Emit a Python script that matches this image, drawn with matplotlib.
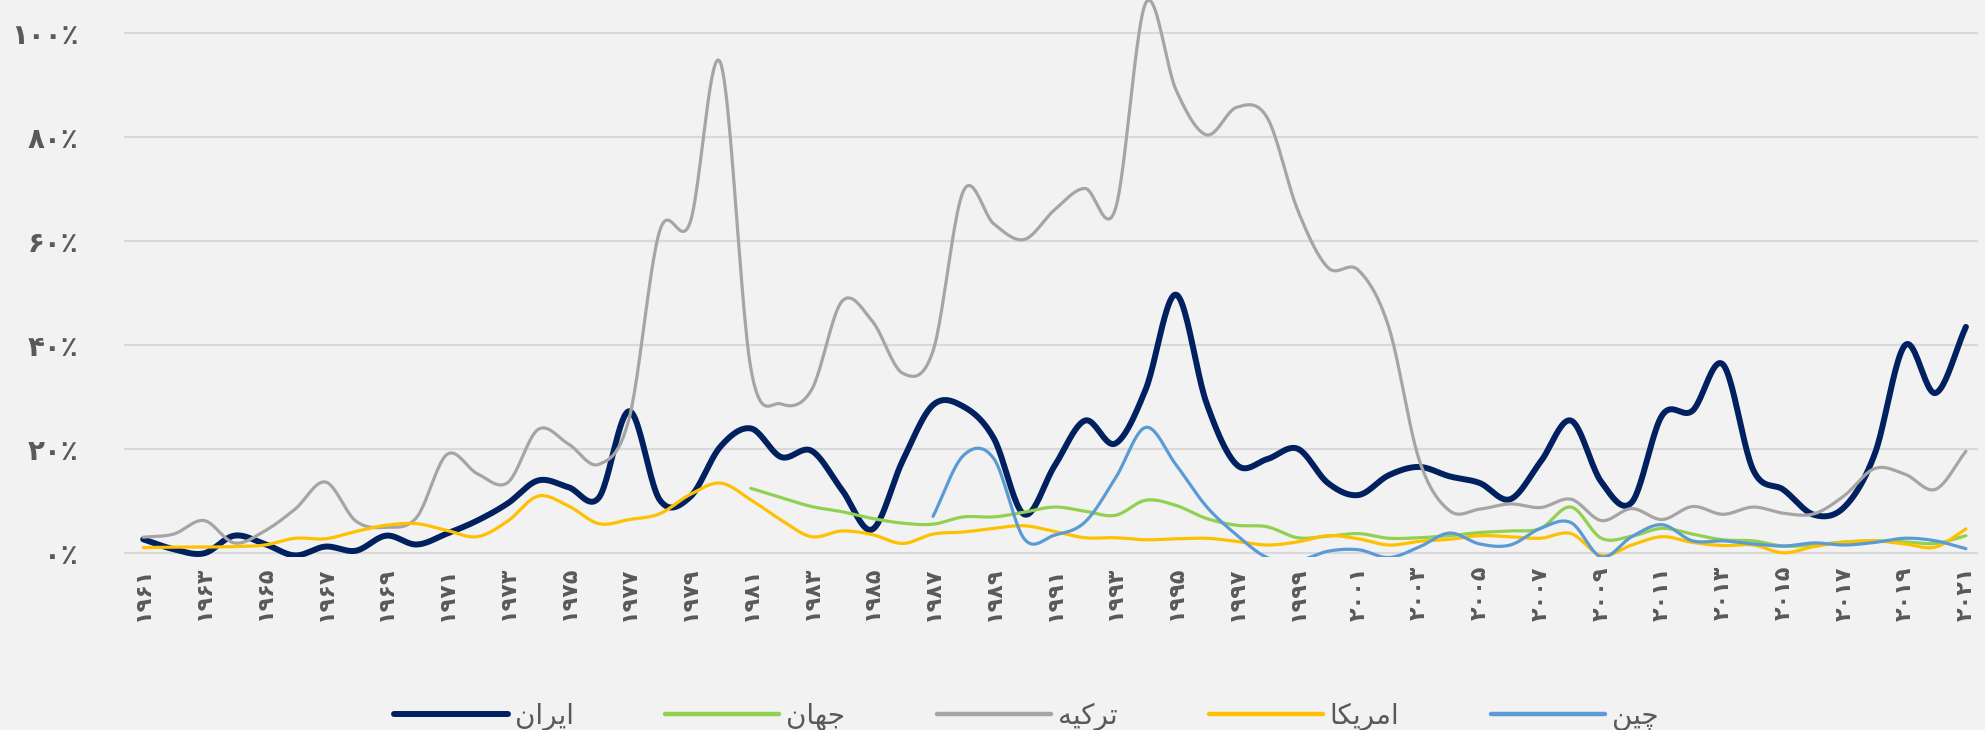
import numpy as np
import matplotlib
matplotlib.use("Agg")
import matplotlib.pyplot as plt

# ==========================================
# DATA: annual inflation (%), 1961-2021
# ==========================================
years = list(range(1961, 2022))

iran = [2.7, 0.8, 0.0, 3.4, 1.8, -0.4, 1.3, 0.5, 3.4, 1.7,
        3.8, 6.3, 9.6, 14.0, 12.7, 10.7, 27.3, 10.3, 10.8, 20.5,
        24.0, 18.5, 19.7, 12.2, 4.6, 17.8, 28.5, 28.2, 22.1, 7.5,
        16.8, 25.5, 21.1, 31.5, 49.7, 28.9, 17.0, 18.1, 20.1, 13.5,
        11.2, 15.0, 16.6, 14.8, 13.5, 10.4, 17.6, 25.5, 13.7, 9.8,
        26.5, 27.4, 36.3, 16.0, 12.2, 7.4, 8.9, 19.1, 40.0, 30.8,
        43.5]

world = [None] * 20 + [
        12.5, 10.7, 9.0, 8.0, 6.7, 5.8, 5.6, 7.0, 7.0, 7.9,
        8.9, 8.1, 7.3, 10.2, 9.2, 6.7, 5.4, 5.1, 3.0, 3.3,
        3.8, 2.9, 3.0, 3.4, 4.0, 4.3, 4.8, 8.9, 2.9, 3.3,
        4.8, 3.7, 2.6, 2.4, 1.4, 1.6, 2.2, 2.4, 2.2, 1.9,
        3.4]

turkey = [3.1, 3.7, 6.3, 2.0, 4.3, 8.5, 13.7, 6.2, 5.0, 6.9,
          19.0, 15.3, 13.6, 23.8, 21.0, 17.1, 26.0, 61.9, 63.5, 94.3,
          35.6, 28.7, 31.4, 48.4, 44.6, 34.6, 38.9, 69.6, 63.3, 60.3,
          66.0, 70.1, 66.1, 105.7, 89.0, 80.4, 85.7, 83.7, 66.0, 54.9,
          54.4, 43.5, 18.0, 8.2, 8.5, 9.5, 8.8, 10.4, 6.3, 8.6,
          6.5, 9.0, 7.5, 8.9, 7.7, 7.6, 11.1, 16.3, 15.2, 12.3,
          19.6]

usa = [1.1, 1.2, 1.2, 1.3, 1.6, 2.9, 2.8, 4.2, 5.4, 5.7,
       4.4, 3.2, 6.2, 11.0, 9.1, 5.7, 6.5, 7.6, 11.3, 13.5,
       10.3, 6.4, 3.2, 4.3, 3.6, 1.9, 3.7, 4.1, 4.8, 5.3,
       4.2, 3.0, 3.0, 2.6, 2.8, 2.9, 2.3, 1.6, 2.2, 3.4,
       2.8, 1.6, 2.3, 2.7, 3.4, 3.2, 2.9, 3.8, -0.4, 1.6,
       3.2, 2.1, 1.5, 1.6, 0.1, 1.3, 2.1, 2.4, 1.8, 1.2,
       4.7]

china = [None] * 26 + [
         7.1, 18.8, 18.2, 2.8,
         3.5, 6.0, 14.4, 24.2, 17.0, 9.0, 3.5, -0.8, -1.4, 0.4,
         0.7, -0.8, 1.2, 3.9, 1.8, 1.6, 4.8, 5.9, -0.7, 3.2,
         5.5, 2.4, 2.4, 1.8, 1.4, 2.0, 1.6, 2.1, 2.9, 2.4,
         0.9]

series_names = ["ایران", "جهان", "ترکیه", "امریکا", "چین"]
series_values = [iran, world, turkey, usa, china]
series_colors = ["#002060", "#92D050", "#A5A5A5", "#FFC000", "#5B9BD5"]
series_widths = [4.3, 2.3, 2.3, 2.3, 2.3]

y_ticks = [0, 20, 40, 60, 80, 100]
x_ticks = years[::2]

# ==========================================
# HELPERS
# ==========================================
PERSIAN_DIGITS = str.maketrans("0123456789", "۰۱۲۳۴۵۶۷۸۹")

# presentation forms: isolated, final, initial, medial
FORMS = {
    "ا": ("\uFE8D", "\uFE8E", None, None),
    "ر": ("\uFEAD", "\uFEAE", None, None),
    "ن": ("\uFEE5", "\uFEE6", "\uFEE7", "\uFEE8"),
    "ی": ("\uFBFC", "\uFBFD", "\uFBFE", "\uFBFF"),
    "ج": ("\uFE9D", "\uFE9E", "\uFE9F", "\uFEA0"),
    "ه": ("\uFEE9", "\uFEEA", "\uFEEB", "\uFEEC"),
    "ت": ("\uFE95", "\uFE96", "\uFE97", "\uFE98"),
    "ک": ("\uFB8E", "\uFB8F", "\uFB90", "\uFB91"),
    "م": ("\uFEE1", "\uFEE2", "\uFEE3", "\uFEE4"),
    "چ": ("\uFB7A", "\uFB7B", "\uFB7C", "\uFB7D"),
}


def shape(word):
    # matplotlib has no arabic shaping / bidi, so do it by hand
    out = []
    for i, ch in enumerate(word):
        iso, fin, ini, med = FORMS[ch]
        prev_joins = i > 0 and FORMS[word[i - 1]][2] is not None
        next_joins = i < len(word) - 1 and ini is not None
        if prev_joins and next_joins:
            out.append(med)
        elif prev_joins:
            out.append(fin)
        elif next_joins:
            out.append(ini)
        else:
            out.append(iso)
    return "".join(reversed(out))


def smooth(x, y, n=24):
    # Catmull-Rom curve through the points (like Excel's smoothed line)
    x = np.asarray(x, float)
    y = np.asarray(y, float)
    px = np.concatenate([[2 * x[0] - x[1]], x, [2 * x[-1] - x[-2]]])
    py = np.concatenate([[2 * y[0] - y[1]], y, [2 * y[-1] - y[-2]]])
    t = np.linspace(0, 1, n, endpoint=False)[:, None]
    def seg(p):
        p0, p1, p2, p3 = p[:-3], p[1:-2], p[2:-1], p[3:]
        return 0.5 * (2 * p1 + (-p0 + p2) * t + (2 * p0 - 5 * p1 + 4 * p2 - p3) * t ** 2
                      + (-p0 + 3 * p1 - 3 * p2 + p3) * t ** 3)
    sx = np.append(seg(px).T.ravel(), x[-1])
    sy = np.append(seg(py).T.ravel(), y[-1])
    return sx, sy


# ==========================================
# PLOT
# ==========================================
plt.rcParams["font.family"] = ["DejaVu Sans"]
text_color = "#595959"

fig = plt.figure(figsize=(19.85, 7.30), dpi=100)
fig.patch.set_facecolor("#F2F2F2")
ax = fig.add_axes([0.0625, 0.237, 0.934, 0.763])
ax.set_facecolor("#F2F2F2")

for name, vals, color, lw in zip(series_names, series_values, series_colors, series_widths):
    pts = [(yr, v) for yr, v in zip(years, vals) if v is not None]
    xs, ys = zip(*pts)
    sx, sy = smooth(xs, ys)
    ax.plot(sx, sy, color=color, linewidth=lw, solid_capstyle="round",
            label=shape(name))

ax.set_xlim(1960.37, 2021.4)
ax.set_ylim(-0.7, 106.3)

ax.set_yticks(y_ticks)
ax.set_yticklabels([f"{v}٪".translate(PERSIAN_DIGITS) for v in y_ticks],
                   fontweight="bold")
ax.set_xticks(x_ticks)
ax.set_xticklabels([str(yr).translate(PERSIAN_DIGITS) for yr in x_ticks],
                   rotation=90, fontweight="bold")
ax.tick_params(axis="y", length=0, pad=33, labelsize=20, labelcolor=text_color)
ax.tick_params(axis="x", length=0, pad=6.5, labelsize=16, labelcolor=text_color)

ax.grid(axis="y", color="#D9D9D9", linewidth=1.6)
ax.set_axisbelow(True)
for s in ax.spines.values():
    s.set_visible(False)

leg = fig.legend(loc="center", bbox_to_anchor=(0.517, 0.019), ncol=5, frameon=False,
                 fontsize=20, handlelength=4.1, handletextpad=0.25, columnspacing=3.3,
                 labelcolor=text_color)
for h in leg.get_lines():
    h.set_linewidth(4.3 if h.get_color() == "#002060" else 3.2)

fig.savefig("out.png", dpi=100, facecolor=fig.get_facecolor())
